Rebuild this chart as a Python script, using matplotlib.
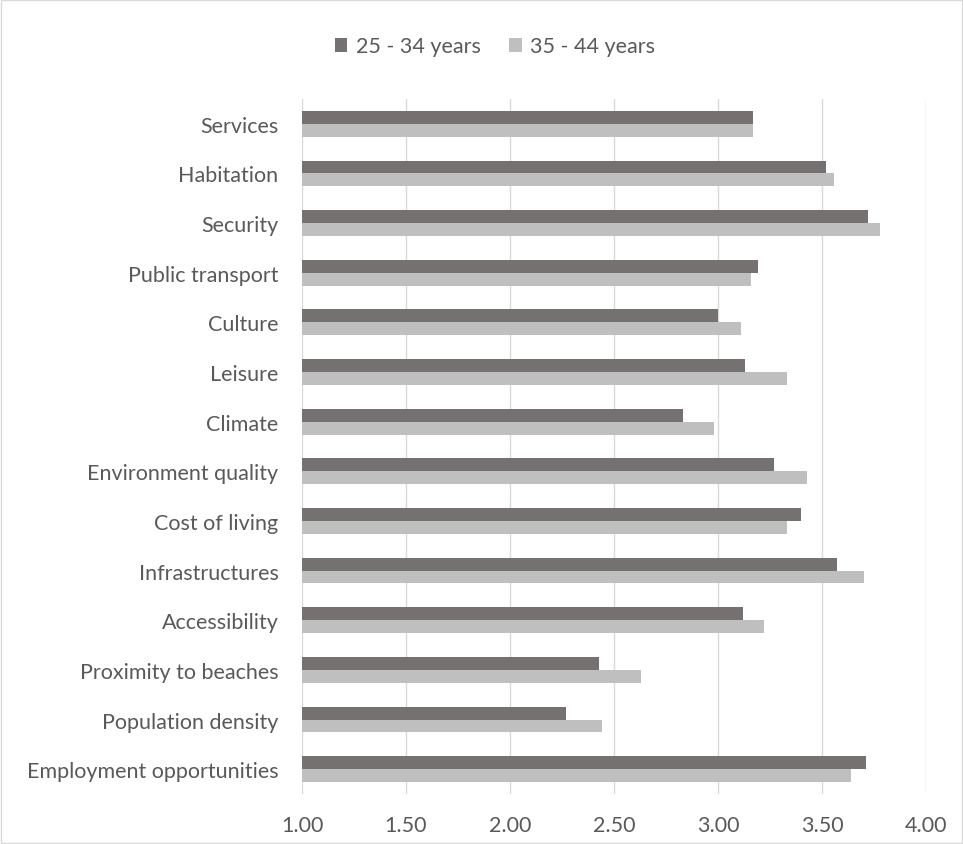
import numpy as np
import matplotlib
matplotlib.use("Agg")
import matplotlib.pyplot as plt
from matplotlib.patches import Rectangle

# categories listed bottom -> top (as drawn by barh)
categories = ["Employment opportunities", "Population density", "Proximity to beaches",
              "Accessibility", "Infrastructures", "Cost of living", "Environment quality",
              "Climate", "Leisure", "Culture", "Public transport", "Security",
              "Habitation", "Services"]
age_25_34 = [3.71, 2.27, 2.43, 3.12, 3.57, 3.40, 3.27, 2.83, 3.13, 3.00, 3.19, 3.72, 3.52, 3.17]
age_35_44 = [3.64, 2.44, 2.63, 3.22, 3.70, 3.33, 3.43, 2.98, 3.33, 3.11, 3.16, 3.78, 3.56, 3.17]
xticks = [1.0, 1.5, 2.0, 2.5, 3.0, 3.5, 4.0]

DARK, LIGHT, TXT = "#767171", "#BFBFBF", "#595959"
plt.rcParams["font.family"] = ["Lato", "DejaVu Sans"]

fig = plt.figure(figsize=(9.63, 8.45), dpi=100)
ax = fig.add_axes([0.3136, 0.0592, 0.648, 0.8225])

y = np.arange(len(categories))
h = 0.26
ax.barh(y + h / 2, np.array(age_25_34) - 1, h, left=1, color=DARK, label="25 - 34 years", zorder=3)
ax.barh(y - h / 2, np.array(age_35_44) - 1, h, left=1, color=LIGHT, label="35 - 44 years", zorder=3)

ax.set_xlim(1, 4)
ax.set_ylim(-0.5, len(categories) - 0.5)
ax.set_xticks(xticks)
ax.set_xticklabels(["%.2f" % v for v in xticks])
ax.set_yticks(y)
ax.set_yticklabels(categories)
ax.tick_params(length=0, labelsize=15.5, labelcolor=TXT)
ax.tick_params(axis="x", pad=15)
ax.tick_params(axis="y", pad=17)
ax.grid(axis="x", color="#D9D9D9", linewidth=1, zorder=0)
for s in ax.spines.values():
    s.set_visible(False)

ax.legend(loc="center", bbox_to_anchor=(0.514, 0.944), bbox_transform=fig.transFigure,
          ncol=2, frameon=False, fontsize=15.5, labelcolor=TXT, handlelength=0.6, handleheight=0.6,
          handletextpad=0.4, columnspacing=1.3)

fig.patches.append(Rectangle((0.001, 0.001), 0.998, 0.998, transform=fig.transFigure,
                             fill=False, edgecolor="#D9D9D9", linewidth=1))
fig.savefig("out.png", dpi=100)
